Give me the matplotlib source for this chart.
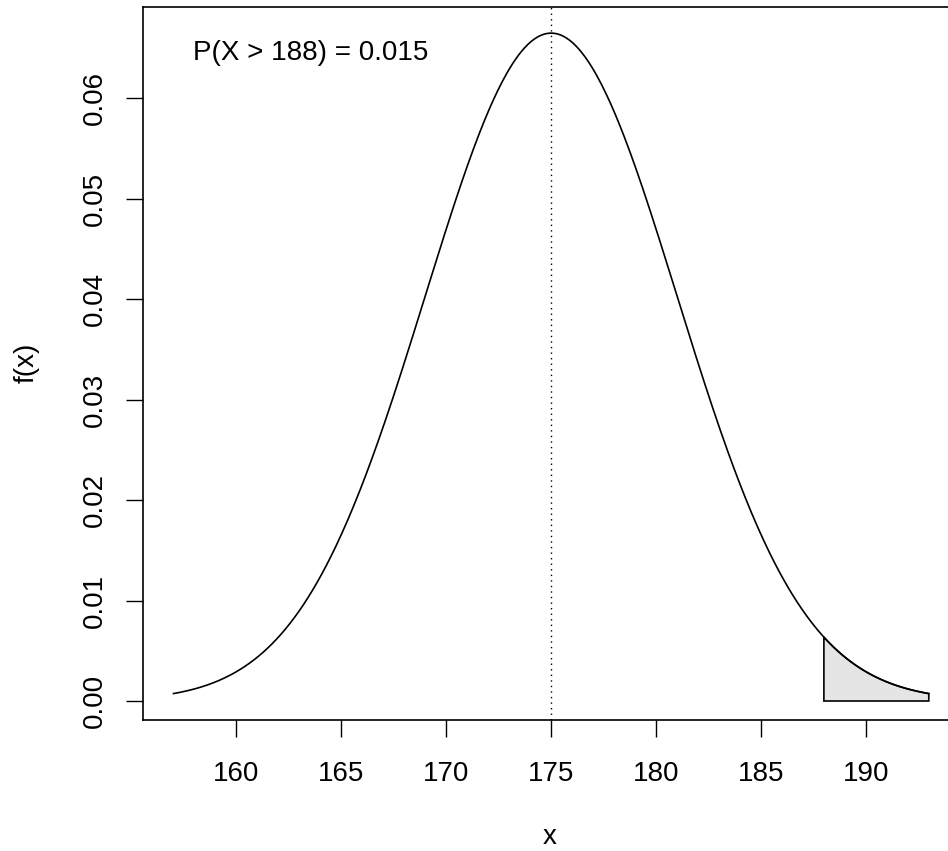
import numpy as np
import matplotlib
matplotlib.use("Agg")
import matplotlib.pyplot as plt

# Distribution parameters (peak 0.0665 -> sd 6, centre 175)
mu = 175.0
sigma = 6.0
x_from, x_to = 157.0, 193.0
cutoff = 188.0
prob_label = "P(X > 188) = 0.015"
x_ticks = [160, 165, 170, 175, 180, 185, 190]
y_ticks = [0.00, 0.01, 0.02, 0.03, 0.04, 0.05, 0.06]
y_tick_labels = ["0.00", "0.01", "0.02", "0.03", "0.04", "0.05", "0.06"]

def dens(v):
    return np.exp(-0.5 * ((v - mu) / sigma) ** 2) / (sigma * np.sqrt(2 * np.pi))

xs = np.linspace(x_from, x_to, 500)
ys = dens(xs)

plt.rcParams['font.family'] = ['Liberation Sans', 'DejaVu Sans']
FS = 20
W, H = 948, 851
fig = plt.figure(figsize=(W / 100, H / 100), dpi=100)

# axes box in pixels: left 143.3, top 6.7, bottom 720, right ~959 (clipped)
left_px, right_px, top_px, bot_px = 143.3, 959.0, 6.7, 720.0
ax = fig.add_axes([left_px / W, 1 - bot_px / H, (right_px - left_px) / W, (bot_px - top_px) / H])

ax.plot(xs, ys, color='black', lw=1.2)
# tail polygon
xt = xs[xs >= cutoff]
xt = np.concatenate([[cutoff], xt])
yt = dens(xt)
px = np.concatenate([[cutoff], xt, [x_to, cutoff]])
py = np.concatenate([[0], yt, [0, 0]])
ax.fill(px, py, facecolor='#E5E5E5', edgecolor='black', lw=1.2)

ax.axvline(mu, color='black', lw=1.0, linestyle=(0, (1, 3)))

span = x_to - x_from
ax.set_xlim(x_from - 0.04 * span, x_to + 0.04 * span)
yspan = ys.max() - ys.min()
ax.set_ylim(ys.min() - 0.04 * yspan, ys.max() + 0.04 * yspan)

ax.set_xticks(x_ticks)
ax.set_xticklabels([str(t) for t in x_ticks])
ax.set_yticks(y_ticks)
ax.set_yticklabels(y_tick_labels, rotation=90, va='center')
ax.tick_params(axis='both', length=12.5, width=1.0, labelsize=FS)
ax.tick_params(axis='x', pad=17)
ax.tick_params(axis='y', pad=13)
for s in ax.spines.values():
    s.set_linewidth(1.2)

ax.text(193 / W, 1 - 60 / H, prob_label, ha='left', va='baseline', fontsize=FS,
        transform=fig.transFigure)

fig.text(550 / W, 1 - 850 / H, "x", ha='center', va='bottom', fontsize=FS)
fig.text(27 / W, 1 - 363 / H, "f(x)", ha='center', va='center', rotation=90, fontsize=FS)

fig.savefig("out.png", dpi=100)
